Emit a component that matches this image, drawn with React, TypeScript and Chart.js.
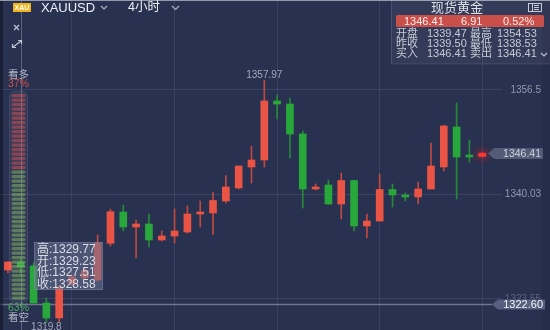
import React, { useEffect, useRef } from 'react';
import { Chart, registerables } from 'chart.js';
Chart.register(...registerables);

// ---------- data ----------
const candleIndex = [0, 1, 2, 3, 4, 5, 6, 7, 8, 9, 10, 11, 12, 13, 14, 15, 16, 17, 18, 19, 20, 21, 22, 23, 24, 25, 26, 27, 28, 29, 30, 31, 32, 33, 34, 35, 36, 37];
const opens = [1328.05, 1329.23, 1328.68, 1322.85, 1320.49, 1325.85, 1326.79, 1326.48, 1332.26, 1337.19, 1334.83, 1335.30, 1332.78, 1333.41, 1334.04, 1336.88, 1337.04, 1338.93, 1340.98, 1344.29, 1345.39, 1354.69, 1354.21, 1349.49, 1340.82, 1341.45, 1338.45, 1342.16, 1334.99, 1335.77, 1340.74, 1339.87, 1339.56, 1340.82, 1344.29, 1350.59, 1346.18, 1345.96];
const highs = [1329.40, 1329.77, 1329.16, 1323.64, 1325.60, 1327.30, 1328.30, 1333.57, 1337.67, 1338.30, 1335.93, 1336.88, 1334.20, 1337.67, 1338.14, 1338.93, 1340.35, 1342.95, 1344.44, 1347.59, 1357.97, 1355.63, 1355.16, 1349.96, 1341.61, 1342.24, 1343.34, 1342.16, 1336.88, 1343.18, 1341.61, 1340.19, 1341.92, 1348.07, 1350.90, 1354.37, 1348.54, 1346.60];
const lows = [1327.58, 1327.51, 1322.80, 1319.80, 1319.90, 1325.60, 1326.50, 1326.30, 1331.83, 1334.20, 1329.94, 1331.68, 1332.62, 1332.31, 1333.88, 1334.83, 1333.65, 1338.61, 1340.82, 1341.76, 1344.29, 1351.85, 1345.70, 1337.82, 1340.66, 1338.45, 1336.09, 1334.20, 1333.10, 1335.77, 1337.98, 1338.93, 1338.45, 1340.82, 1343.65, 1339.24, 1345.07, 1345.90];
const closes = [1329.31, 1328.58, 1322.85, 1320.49, 1325.37, 1326.95, 1327.90, 1332.31, 1337.24, 1334.83, 1335.30, 1332.78, 1333.41, 1334.20, 1336.88, 1337.19, 1339.01, 1341.13, 1344.44, 1345.39, 1354.69, 1354.21, 1349.49, 1340.82, 1341.13, 1338.45, 1342.16, 1334.99, 1335.77, 1340.74, 1339.87, 1339.56, 1340.82, 1344.44, 1350.75, 1345.86, 1345.86, 1346.41];

const xGridTicks = [5, 13, 21, 29, 37];
const yTickValues = [1356.5, 1340.03, 1323.55];
const yTickLabels = ['1356.5', '1340.03', '1323.55'];

const lastPrice = 1346.41;
const crosshairIndex = 1;
const crosshairPrice = 1322.6;

const symbolName = 'XAUUSD';
const periodName = '4小时';
const quoteTitle = '现货黄金';
const quoteHeader = ['1346.41', '6.91', '0.52%'];
const quoteRowLabels = [['开盘', '最高'], ['昨收', '最低'], ['买入', '卖出']];
const quoteRowValues = [['1339.47', '1354.53'], ['1339.50', '1338.53'], ['1346.41', '1346.41']];
const sentimentLabels = ['看多', '看空'];
const sentimentPct = [37, 63];
const tooltipLabels = ['高', '开', '低', '收'];

// ---------- style ----------
const UP = '#ea5444';
const DOWN = '#28a83b';
const UP_WICK = '#c04840';
const DOWN_WICK = '#268a36';
const BG = '#293150';
const FONT = '"Liberation Sans", Arial, "Noto Sans CJK SC", sans-serif';

function fmt(v: number) {
  return v.toFixed(2);
}

function chevron(ctx: CanvasRenderingContext2D, x: number, y: number, w: number, h: number, color: string) {
  ctx.save();
  ctx.strokeStyle = color;
  ctx.lineWidth = 1.2;
  ctx.beginPath();
  ctx.moveTo(x, y);
  ctx.lineTo(x + w / 2, y + h);
  ctx.lineTo(x + w, y);
  ctx.stroke();
  ctx.restore();
}

function bubble(ctx: CanvasRenderingContext2D, x: number, y: number, w: number, h: number, fill: string) {
  ctx.beginPath();
  ctx.moveTo(x, y);
  ctx.lineTo(x + 6, y - h / 2);
  ctx.lineTo(x + w, y - h / 2);
  ctx.lineTo(x + w, y + h / 2);
  ctx.lineTo(x + 6, y + h / 2);
  ctx.closePath();
  ctx.fillStyle = fill;
  ctx.fill();
}

const overlayPlugin = {
  id: 'overlay',
  beforeDraw(chart: any) {
    const ctx: CanvasRenderingContext2D = chart.ctx;
    ctx.save();
    ctx.fillStyle = BG;
    ctx.fillRect(0, 0, chart.width, chart.height);
    ctx.restore();
  },
  beforeDatasetsDraw(chart: any) {
    const ctx: CanvasRenderingContext2D = chart.ctx;
    const xs = chart.scales.x;
    const ys = chart.scales.y;
    const cx = Math.round(xs.getPixelForValue(crosshairIndex)) + 0.5;
    const cy = ys.getPixelForValue(crosshairPrice);
    ctx.save();
    ctx.strokeStyle = 'rgba(190,198,220,0.35)';
    ctx.lineWidth = 1;
    ctx.beginPath();
    ctx.moveTo(cx, 0);
    ctx.lineTo(cx, chart.height);
    ctx.stroke();
    ctx.strokeStyle = 'rgba(190,198,220,0.45)';
    ctx.lineWidth = 1.5;
    ctx.beginPath();
    ctx.moveTo(0, cy);
    ctx.lineTo(492, cy);
    ctx.stroke();
    ctx.restore();
  },
  afterDatasetsDraw(chart: any) {
    const ctx: CanvasRenderingContext2D = chart.ctx;
    const meta = chart.getDatasetMeta(0);
    const el = meta.data[candleIndex.length - 1];
    if (!el) return;
    const p = el.getProps(['x', 'y', 'base', 'width'], true);
    ctx.save();
    ctx.shadowColor = 'rgba(255,30,30,1)';
    ctx.shadowBlur = 9;
    ctx.fillStyle = '#ff3434';
    const top = Math.min(p.y, p.base);
    const h = Math.max(Math.abs(p.base - p.y), 3);
    ctx.fillRect(p.x - p.width / 2, top - 0.5, p.width, h);
    ctx.fillRect(p.x - p.width / 2, top - 0.5, p.width, h);
    ctx.restore();
  },
  afterDraw(chart: any) {
    const ctx: CanvasRenderingContext2D = chart.ctx;
    const xs = chart.scales.x;
    const ys = chart.scales.y;
    const W = chart.width;
    const H = chart.height;
    ctx.save();

    // frame strips
    ctx.fillStyle = 'rgba(12,16,30,0.55)';
    ctx.fillRect(0, 0, 3, H);
    ctx.fillStyle = 'rgba(0,0,0,0.07)';
    ctx.fillRect(542, 0, W - 542, H);
    ctx.fillStyle = 'rgba(175,180,195,0.8)';
    ctx.fillRect(0, 0, W, 1);

    // header
    ctx.fillStyle = '#f2b31b';
    ctx.fillRect(13, 3, 18, 9);
    ctx.fillStyle = '#ffffff';
    ctx.font = `bold 7px ${FONT}`;
    ctx.textAlign = 'center';
    ctx.textBaseline = 'middle';
    ctx.fillText('XAU', 22, 7.8);
    ctx.textAlign = 'left';
    ctx.fillStyle = '#eef0f5';
    ctx.font = `13px ${FONT}`;
    ctx.fillText(symbolName, 41, 8);
    chevron(ctx, 101, 6, 6, 3, 'rgba(200,205,215,0.8)');
    ctx.font = `12.5px ${FONT}`;
    ctx.fillText(periodName, 128, 8);
    chevron(ctx, 172, 6, 7, 3.5, 'rgba(200,205,215,0.8)');

    // tool icons
    ctx.strokeStyle = 'rgba(215,220,232,0.85)';
    ctx.lineWidth = 1.2;
    ctx.beginPath();
    ctx.moveTo(14, 25); ctx.lineTo(19, 30);
    ctx.moveTo(19, 25); ctx.lineTo(14, 30);
    ctx.stroke();
    ctx.beginPath();
    ctx.moveTo(12.5, 47.5); ctx.lineTo(21.5, 40.5);
    ctx.moveTo(18, 40.5); ctx.lineTo(21.5, 40.5); ctx.lineTo(21.5, 44);
    ctx.moveTo(12.5, 44); ctx.lineTo(12.5, 47.5); ctx.lineTo(16, 47.5);
    ctx.stroke();

    // sentiment
    ctx.font = `10.5px ${FONT}`;
    ctx.fillStyle = 'rgba(200,205,216,0.85)';
    ctx.fillText(sentimentLabels[0], 8, 75);
    ctx.fillStyle = '#d0504d';
    ctx.fillText(sentimentPct[0] + '%', 8, 84.5);
    ctx.fillStyle = '#4aae5a';
    ctx.fillText(sentimentPct[1] + '%', 8, 308.5);
    ctx.fillStyle = 'rgba(200,205,216,0.85)';
    ctx.fillText(sentimentLabels[1], 8, 318);

    ctx.beginPath();
    ctx.roundRect(9.5, 91.5, 18, 211, 5);
    ctx.fillStyle = 'rgba(255,255,255,0.05)';
    ctx.fill();
    ctx.strokeStyle = 'rgba(255,255,255,0.1)';
    ctx.lineWidth = 1;
    ctx.stroke();
    const pillCount = 46;
    const redCount = Math.round((pillCount * sentimentPct[0]) / 100);
    for (let k = 0; k < pillCount; k++) {
      ctx.beginPath();
      ctx.roundRect(11.5, 94 + k * 4.5, 14, 3.2, 1.6);
      ctx.fillStyle = k < redCount ? 'rgba(205,80,84,0.55)' : 'rgba(124,180,94,0.55)';
      ctx.fill();
    }

    // tooltip
    ctx.fillStyle = 'rgba(105,115,145,0.55)';
    ctx.fillRect(34, 242, 69, 48);
    ctx.strokeStyle = 'rgba(150,160,185,0.3)';
    ctx.strokeRect(34.5, 242.5, 68, 47);
    const tv = [highs[crosshairIndex], opens[crosshairIndex], lows[crosshairIndex], closes[crosshairIndex]];
    ctx.font = `12px ${FONT}`;
    ctx.fillStyle = '#d9dde6';
    ctx.textBaseline = 'middle';
    tv.forEach((v, k) => {
      ctx.fillText(tooltipLabels[k] + ':' + fmt(v), 37, 249.5 + k * 11.7);
    });

    // y tick labels
    ctx.font = `10px ${FONT}`;
    ctx.textAlign = 'right';
    yTickValues.forEach((v, k) => {
      ctx.fillStyle = k === yTickValues.length - 1 ? 'rgba(150,158,178,0.45)' : 'rgba(155,163,183,0.9)';
      ctx.fillText(yTickLabels[k], 541, ys.getPixelForValue(v) + 0.5);
    });

    // crosshair price bubble
    const cy = ys.getPixelForValue(crosshairPrice);
    bubble(ctx, 492, cy, 53, 10, 'rgba(88,98,128,0.95)');
    ctx.fillStyle = '#f2f4f8';
    ctx.font = `11px ${FONT}`;
    ctx.fillText(crosshairPrice.toFixed(2), 543, cy + 0.5);

    // last price bubble
    const ly = ys.getPixelForValue(lastPrice);
    bubble(ctx, 488, ly, 55, 11, 'rgba(82,92,118,1)');
    ctx.fillStyle = '#d0d4de';
    ctx.font = `10.5px ${FONT}`;
    ctx.fillText(lastPrice.toFixed(2), 541, ly + 0.5);

    // max / min labels
    const maxH = Math.max(...highs);
    const maxI = highs.indexOf(maxH);
    const minL = Math.min(...lows);
    const minI = lows.indexOf(minL);
    ctx.textAlign = 'center';
    ctx.font = `10px ${FONT}`;
    ctx.fillStyle = 'rgba(170,176,192,0.95)';
    ctx.fillText(fmt(maxH), xs.getPixelForValue(maxI), ys.getPixelForValue(maxH) - 5);
    ctx.fillText(String(Number(minL.toFixed(2))), xs.getPixelForValue(minI), ys.getPixelForValue(minL) + 4.5);

    // quote panel
    ctx.fillStyle = 'rgba(255,255,255,0.05)';
    ctx.fillRect(391, 0, 160, 64);
    ctx.strokeStyle = 'rgba(255,255,255,0.1)';
    ctx.strokeRect(391.5, -1, 160, 65);
    ctx.font = `13px ${FONT}`;
    ctx.fillStyle = '#dde0e8';
    ctx.textAlign = 'center';
    ctx.fillText(quoteTitle, 457, 8.5);
    ctx.strokeStyle = 'rgba(215,220,230,0.9)';
    ctx.lineWidth = 1;
    ctx.strokeRect(528.5, 3.5, 13, 8);
    ctx.beginPath();
    ctx.moveTo(532.5, 3.5); ctx.lineTo(532.5, 11.5);
    ctx.moveTo(534, 5.5); ctx.lineTo(539, 5.5);
    ctx.moveTo(534, 7.5); ctx.lineTo(539, 7.5);
    ctx.moveTo(534, 9.5); ctx.lineTo(539, 9.5);
    ctx.stroke();

    ctx.beginPath();
    ctx.roundRect(396, 15, 148, 12, 1.5);
    ctx.fillStyle = '#c94f4a';
    ctx.fill();
    ctx.textAlign = 'left';
    ctx.font = `11px ${FONT}`;
    ctx.fillStyle = '#fbeeee';
    ctx.fillText(quoteHeader[0], 404, 21.5);
    ctx.fillText(quoteHeader[1], 461, 21.5);
    ctx.fillText(quoteHeader[2], 503, 21.5);

    ctx.fillStyle = '#c6cad4';
    quoteRowLabels.forEach((labs, r) => {
      const y = 33.5 + r * 10.4;
      ctx.fillText(labs[0], 396, y);
      ctx.fillText(quoteRowValues[r][0], 427, y);
      ctx.fillText(labs[1], 470, y);
      ctx.fillText(quoteRowValues[r][1], 497, y);
    });
    chevron(ctx, 541, 53, 6, 3, 'rgba(205,209,218,0.9)');

    ctx.restore();
  },
};

export default function App() {
  const ref = useRef<HTMLCanvasElement | null>(null);
  useEffect(() => {
    if (!ref.current) return;
    const bodyData = candleIndex.map((i) => ({ x: i, y: [opens[i], closes[i]] }));
    const wickData = candleIndex.map((i) => ({ x: i, y: [lows[i], highs[i]] }));
    const colors = candleIndex.map((i) => (closes[i] >= opens[i] ? UP : DOWN));
    const wickColors = candleIndex.map((i) => (closes[i] >= opens[i] ? UP_WICK : DOWN_WICK));
    const chart = new Chart(ref.current, {
      type: 'bar',
      data: {
        datasets: [
          {
            data: bodyData as any,
            backgroundColor: colors,
            borderWidth: 0,
            barThickness: 7,
            grouped: false,
            minBarLength: 1.5,
          } as any,
          {
            data: wickData as any,
            backgroundColor: wickColors,
            borderWidth: 0,
            barThickness: 1,
            grouped: false,
          } as any,
        ],
      },
      options: {
        animation: false,
        responsive: false,
        events: [],
        layout: { padding: { left: 0, top: 0, bottom: 0, right: 48 } },
        plugins: { legend: { display: false }, tooltip: { enabled: false } },
        scales: {
          x: {
            type: 'linear',
            offset: false,
            min: -0.616,
            max: 38.54,
            border: { display: false },
            ticks: { display: false },
            grid: { offset: false, drawTicks: false, color: 'rgba(150,160,190,0.14)', lineWidth: 1 },
            afterBuildTicks: (s: any) => {
              s.ticks = xGridTicks.map((v) => ({ value: v }));
            },
          },
          y: {
            type: 'linear',
            min: 1318.596,
            max: 1370.605,
            border: { display: false },
            ticks: { display: false },
            grid: { drawTicks: false, color: 'rgba(150,160,190,0.16)', lineWidth: 1 },
            afterBuildTicks: (s: any) => {
              s.ticks = yTickValues.map((v) => ({ value: v }));
            },
          },
        },
      } as any,
      plugins: [overlayPlugin as any],
    });
    return () => chart.destroy();
  }, []);
  return (
    <div style={{ position: 'fixed', left: 0, top: 0, width: 550, height: 330, background: BG }}>
      <canvas ref={ref} width={550} height={330} style={{ display: 'block' }} />
    </div>
  );
}
